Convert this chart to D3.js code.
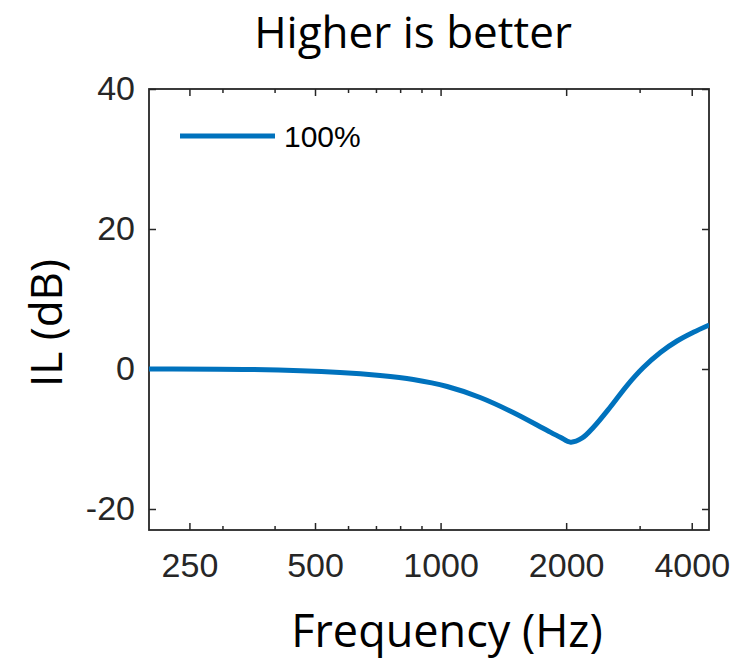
<!DOCTYPE html>
<html><head><meta charset="utf-8">
<script src="https://cdn.jsdelivr.net/npm/d3@7"></script>
<style>body{margin:0;background:#fff}</style>
</head><body>
<svg id="c" width="736" height="665"></svg>
<script>
const freq = [200,350,574,716,860,1037,1244,1493,1802,1936,2050,2186,2323,2552,2798,3062,3364,3688,4036,4408];
const il   = [0,-0.07,-0.5,-0.93,-1.5,-2.5,-4.07,-6.21,-8.79,-9.75,-10.45,-9.85,-8.35,-5.43,-2.36,0.21,2.36,4.0,5.24,6.29];
const xTicks = [250,500,1000,2000,4000];
const xMinor = [300,400,600,700,800,900,3000];
const yTicks = [-20,0,20,40];
const seriesName = "100%";
const title = "Higher is better";
const xLabel = "Frequency (Hz)";
const yLabel = "IL (dB)";

const L=149,R=709,T=89,B=530;
const svg=d3.select("#c");
const x=d3.scaleLog().domain([200,4400]).range([L,R]);
const y=d3.scaleLinear().domain([-23,40]).range([B,T]);
const axCol="#262626";
const tickFont="'Liberation Sans', Arial, sans-serif";

function styleAxis(g){
  g.select(".domain").remove();
  g.selectAll("line").attr("stroke",axCol).attr("stroke-width",1.5);
  g.selectAll("text").attr("fill",axCol).style("font-family",tickFont).style("font-size","34px");
}
const fmt = d => String(d);
// bottom
svg.append("g").attr("transform",`translate(0,${B})`)
  .call(d3.axisBottom(x).tickValues(xTicks).tickFormat(fmt).tickSizeInner(-7).tickSizeOuter(0).tickPadding(23))
  .call(styleAxis);
svg.append("g").attr("transform",`translate(0,${B})`)
  .call(d3.axisBottom(x).tickValues(xMinor).tickFormat("").tickSizeInner(-4).tickSizeOuter(0))
  .call(styleAxis);
// top
svg.append("g").attr("transform",`translate(0,${T})`)
  .call(d3.axisTop(x).tickValues(xTicks).tickFormat("").tickSizeInner(-7).tickSizeOuter(0))
  .call(styleAxis);
svg.append("g").attr("transform",`translate(0,${T})`)
  .call(d3.axisTop(x).tickValues(xMinor).tickFormat("").tickSizeInner(-4).tickSizeOuter(0))
  .call(styleAxis);
// left
svg.append("g").attr("transform",`translate(${L},0)`)
  .call(d3.axisLeft(y).tickValues(yTicks).tickFormat(fmt).tickSizeInner(-7).tickSizeOuter(0).tickPadding(14))
  .call(styleAxis);
// right
svg.append("g").attr("transform",`translate(${R},0)`)
  .call(d3.axisRight(y).tickValues(yTicks).tickFormat("").tickSizeInner(-7).tickSizeOuter(0))
  .call(styleAxis);

// frame
svg.append("rect").attr("x",L).attr("y",T).attr("width",R-L).attr("height",B-T)
  .attr("fill","none").attr("stroke",axCol).attr("stroke-width",1.8);

svg.append("clipPath").attr("id","clp").append("rect").attr("x",L).attr("y",T).attr("width",R-L).attr("height",B-T);

const data=freq.map((f,i)=>[f,il[i]]);
svg.append("path").datum(data).attr("clip-path","url(#clp)")
  .attr("fill","none").attr("stroke","#0072BD").attr("stroke-width",5)
  .attr("d",d3.line().x(d=>x(d[0])).y(d=>y(d[1])).curve(d3.curveCatmullRom.alpha(0.5)));

// legend
svg.append("line").attr("x1",180).attr("x2",275).attr("y1",136).attr("y2",136)
  .attr("stroke","#0072BD").attr("stroke-width",5);
svg.append("text").attr("x",284).attr("y",147).text(seriesName)
  .attr("fill","#000").style("font-family",tickFont).style("font-size","30px");

// title & labels
const labFont="'Open Sans', Lato, sans-serif";
svg.append("text").attr("x",413).attr("y",48).attr("text-anchor","middle").text(title)
  .style("font-family",labFont).style("font-size","44px").attr("fill","#000");
svg.append("text").attr("x",447).attr("y",647).attr("text-anchor","middle").text(xLabel)
  .style("font-family",labFont).style("font-size","45px").attr("fill","#000");
svg.append("text").attr("transform","translate(62,323) rotate(-90)").attr("text-anchor","middle").text(yLabel)
  .style("font-family",labFont).style("font-size","44px").attr("fill","#000");
</script>
</body></html>
